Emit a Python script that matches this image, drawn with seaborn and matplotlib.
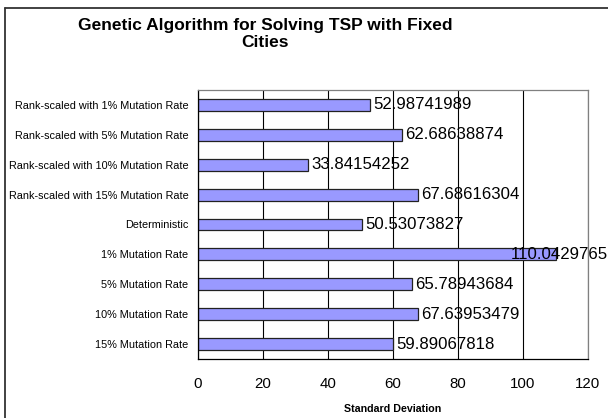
import matplotlib
matplotlib.use("Agg")
import matplotlib.pyplot as plt
import seaborn as sns
import pandas as pd
import numpy as np
from matplotlib.lines import Line2D
from matplotlib.transforms import blended_transform_factory

categories = [
    "Rank-scaled with 1% Mutation Rate",
    "Rank-scaled with 5% Mutation Rate",
    "Rank-scaled with 10% Mutation Rate",
    "Rank-scaled with 15% Mutation Rate",
    "Deterministic",
    "1% Mutation Rate",
    "5% Mutation Rate",
    "10% Mutation Rate",
    "15% Mutation Rate",
]
values = [52.98741989, 62.68638874, 33.84154252, 67.68616304, 50.53073827,
          110.0429765, 65.78943684, 67.63953479, 59.89067818]
x_ticks = [0, 20, 40, 60, 80, 100, 120]

df = pd.DataFrame({"category": categories, "value": values})

sns.set_style("white")
plt.rcParams["font.family"] = ["Liberation Sans", "DejaVu Sans"]
plt.rcParams["text.color"] = "black"
plt.rcParams["xtick.color"] = "black"
plt.rcParams["ytick.color"] = "black"
plt.rcParams["axes.labelcolor"] = "black"

W, H = 608, 418
fig = plt.figure(figsize=(W / 100, H / 100), dpi=100)
ax = fig.add_axes([198 / W, 1 - 359 / H, (588 - 198) / W, (359 - 90) / H])

sns.barplot(data=df, x="value", y="category", orient="h", ax=ax,
            color="#9999FF", width=0.4, edgecolor="#222222", linewidth=0.9,
            saturation=1)

fig.canvas.draw()
renderer = fig.canvas.get_renderer()
edge_tr = blended_transform_factory(fig.transFigure, ax.transData)
for i, v in enumerate(values):
    t = ax.text(v + 1.0, i, f"{v:.10g}", va="center", ha="left", fontsize=12.1,
                color="black")
    bb = t.get_window_extent(renderer)
    if bb.x1 > W:
        t.set_transform(edge_tr)
        t.set_position((1.0, i))
        t.set_ha("right")

ax.set_xlim(0, 120)
ax.set_ylim(len(categories) - 0.5, -0.5)
ax.set_xticks(x_ticks)
ax.set_xticklabels([str(t) for t in x_ticks], fontsize=10.8, color="black")
ax.tick_params(axis="x", direction="out", length=4, width=0.8, color="black", pad=9)
ax.set_yticks(range(len(categories)))
ax.set_yticklabels(categories, fontsize=7.8, color="black")
ax.tick_params(axis="y", which="major", length=0, pad=7)
ax.set_yticks(np.arange(-0.5, len(categories), 1), minor=True)
ax.tick_params(axis="y", which="minor", direction="out", length=4, width=0.8, color="black")

ax.xaxis.grid(True, color="black", linewidth=0.8)
ax.yaxis.grid(False)
ax.set_axisbelow(True)

for s in ["left", "bottom"]:
    ax.spines[s].set_color("black")
    ax.spines[s].set_linewidth(0.9)
for s in ["top", "right"]:
    ax.spines[s].set_color("#808080")
    ax.spines[s].set_linewidth(0.9)
    ax.spines[s].set_visible(True)

ax.set_ylabel("")
ax.set_xlabel("Standard Deviation", fontsize=7.7, fontweight="bold", labelpad=9,
              color="black")

fig.text(265 / W, 1 - 34 / H, "Genetic Algorithm for Solving TSP with Fixed\nCities",
         ha="center", va="center", fontsize=12.5, fontweight="bold", linespacing=1.1,
         color="black")

# outer chart frame (left and top visible)
fig.add_artist(Line2D([5 / W, 5 / W], [0, 1 - 8 / H], transform=fig.transFigure,
                      color="#333333", linewidth=1.3))
fig.add_artist(Line2D([5 / W, 1], [1 - 8 / H, 1 - 8 / H], transform=fig.transFigure,
                      color="#333333", linewidth=1.3))

fig.savefig("out.png", dpi=100, facecolor="white")
